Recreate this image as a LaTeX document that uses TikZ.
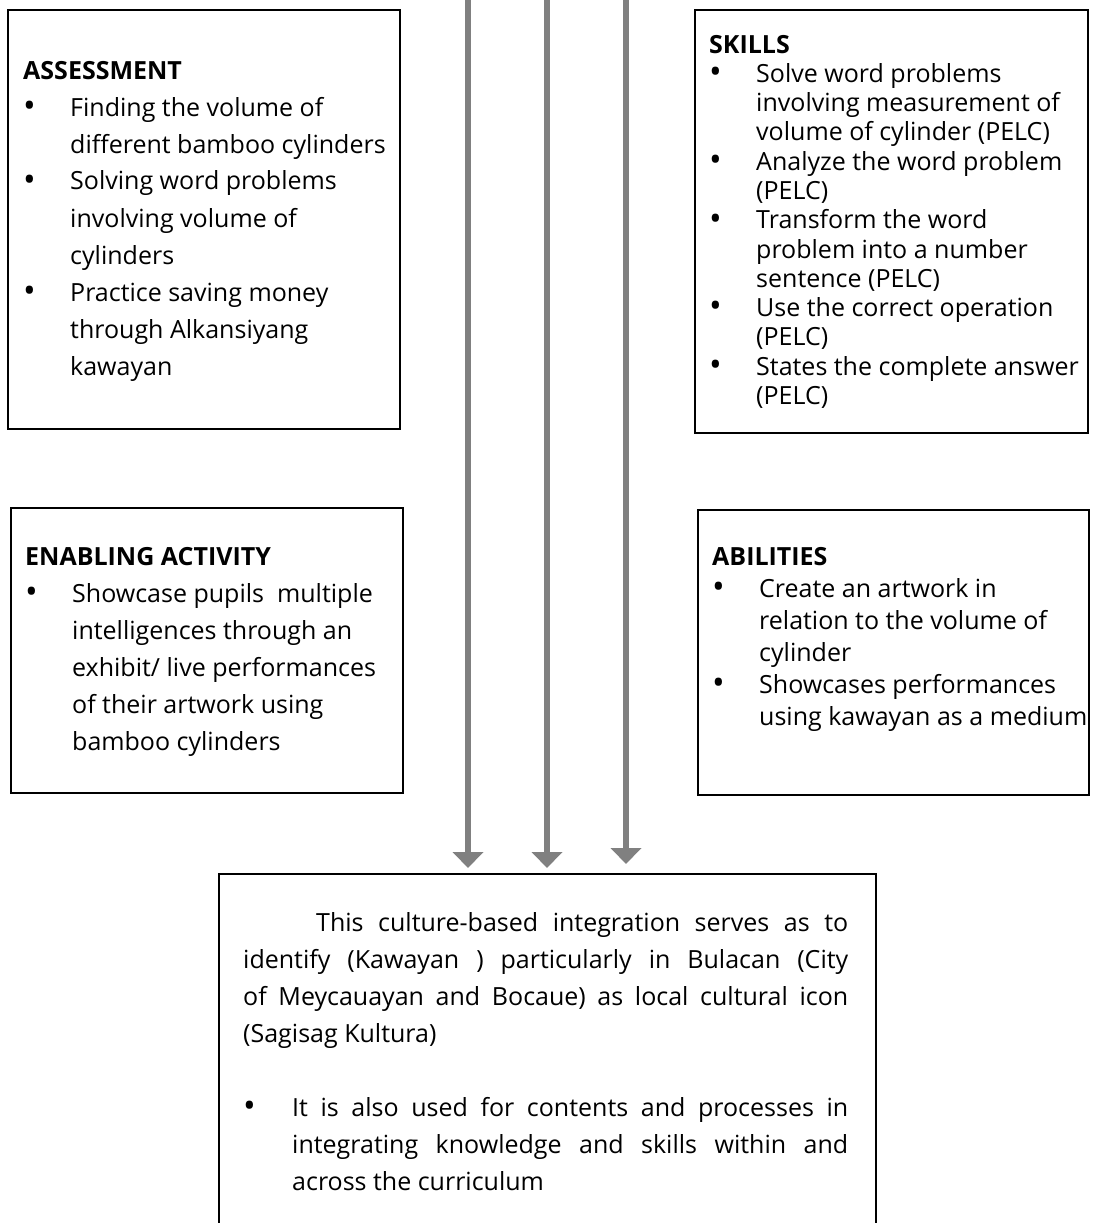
\documentclass[tikz,border=0pt]{standalone}
\usepackage{fontspec}
\setmainfont{Open Sans}
\usetikzlibrary{arrows.meta}
\definecolor{arrowgray}{RGB}{128,128,128}
\newcommand{\dotmark}{\raisebox{-1.2pt}{\scalebox{1.35}{\textbullet}}}
\newcommand{\bul}{\makebox[47pt][l]{\dotmark}}
\newcommand{\cnt}{\hspace*{47pt}}
\begin{document}
\begin{tikzpicture}[x=1pt,y=1pt,
  box/.style={draw=black,line width=2pt,anchor=north west},
  txt/.style={anchor=base west,font=\fontsize{25}{#1}\selectfont},
  flow/.style={draw=arrowgray,line width=6pt,-{Triangle[width=30pt,length=16pt]}}]
\tikzstyle{every node}+=[inner sep=0pt]
\fill [white] (0,0) rectangle (1094,-1223);
\useasboundingbox (0,0) rectangle (1094,-1223);
\node [box,minimum width=392pt,minimum height=419pt] (assess) at (7,-9) {};
\node [box,minimum width=393pt,minimum height=423pt] (skills) at (694,-9) {};
\node [box,minimum width=392pt,minimum height=285pt] (enabling) at (10,-507) {};
\node [box,minimum width=391pt,minimum height=285pt] (abilities) at (697,-509) {};
\node [box,minimum width=657pt,minimum height=367pt] (integ) at (218,-873) {};
\node [txt=37] (assesstext) at ([shift={(16,-70)}]assess.north west) {\parbox[t]{380pt}{\raggedright
\textbf{ASSESSMENT}\\
\bul Finding the volume of\\
\cnt different bamboo cylinders\\
\bul Solving word problems\\
\cnt involving volume of\\
\cnt cylinders\\
\bul Practice saving money\\
\cnt through Alkansiyang\\
\cnt kawayan}};
\node [txt=29.3] (skillstext) at ([shift={(15,-44)}]skills.north west) {\parbox[t]{380pt}{\raggedright
\textbf{SKILLS}\\
\bul Solve word problems\\
\cnt involving measurement of\\
\cnt volume of cylinder (PELC)\\
\bul Analyze the word problem\\
\cnt (PELC)\\
\bul Transform the word\\
\cnt problem into a number\\
\cnt sentence (PELC)\\
\bul Use the correct operation\\
\cnt (PELC)\\
\bul States the complete answer\\
\cnt (PELC)}};
\node [txt=37] (enablingtext) at ([shift={(15,-58)}]enabling.north west) {\parbox[t]{380pt}{\raggedright
\textbf{ENABLING ACTIVITY}\\
\bul Showcase pupils~ multiple\\
\cnt intelligences through an\\
\cnt exhibit/ live performances\\
\cnt of their artwork using\\
\cnt bamboo cylinders}};
\node [txt=32] (abilitiestext) at ([shift={(15,-56)}]abilities.north west) {\parbox[t]{380pt}{\raggedright
\textbf{ABILITIES}\\
\bul Create an artwork in\\
\cnt relation to the volume of\\
\cnt cylinder\\
\bul Showcases performances\\
\cnt using kawayan as a medium}};
\node [txt=37] (integtext) at ([shift={(25,-58)}]integ.north west) {\parbox[t]{605pt}{\setlength{\parindent}{73pt}%
\indent This culture-based integration serves as to\linebreak
identify (Kawayan ) particularly in Bulacan (City\linebreak
of Meycauayan and Bocaue) as local cultural icon\linebreak
(Sagisag Kultura)\par
\vspace{37pt}\hangindent=49pt\hangafter=1\noindent\makebox[49pt][l]{\dotmark}It is also used for contents and processes in\linebreak
integrating knowledge and skills within and\linebreak
across the curriculum}};
\coordinate (top1) at (468,5);
\coordinate (top2) at (547,5);
\coordinate (top3) at (626,5);
\draw [flow,shorten >=5pt] (top1) -- (top1 |- integ.north);
\draw [flow,shorten >=5pt] (top2) -- (top2 |- integ.north);
\draw [flow,shorten >=9pt] (top3) -- (top3 |- integ.north);
\end{tikzpicture}
\end{document}
